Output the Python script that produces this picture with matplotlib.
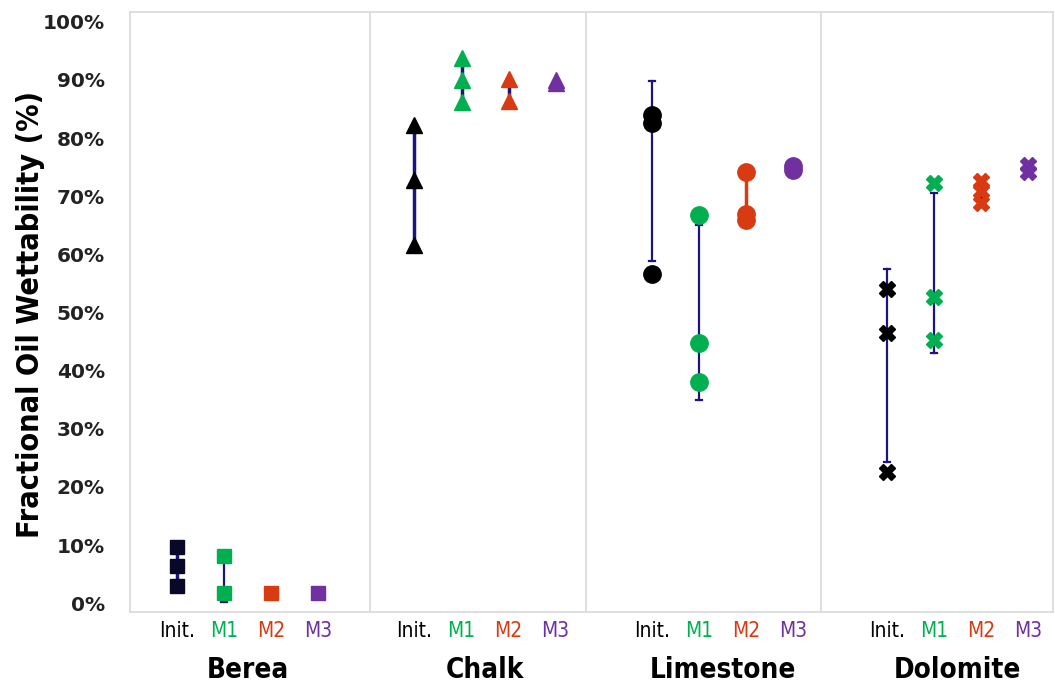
import matplotlib.pyplot as plt
import numpy as np

# Fractional oil wettability per rock type and treatment (percent)
rocks = ['Berea', 'Chalk', 'Limestone', 'Dolomite']
treatments = ['Init.', 'M1', 'M2', 'M3']
treat_colors = ['#000000', '#00B050', '#D83B12', '#7030A0']
rock_markers = ['s', '^', 'o', 'X']

berea = [[9.6, 6.4, 2.9], [8.1, 1.7], [1.7], [1.7]]
chalk = [[82.3, 72.8, 61.6], [93.8, 90.0, 86.2], [90.2, 86.4], [89.5, 90.0]]
limestone = [[84.0, 82.6, 56.6], [66.8, 44.7, 38.0], [74.2, 67.0, 66.0], [74.5, 75.2]]
dolomite = [[54.0, 46.4, 22.5], [72.3, 52.7, 45.3], [72.7, 70.9, 68.8], [75.4, 74.2]]
samples = [berea, chalk, limestone, dolomite]

# error bar ranges (low, high); None = plain connecting line between points
berea_err = [None, (0.3, 8.1), None, None]
chalk_err = [None, None, None, None]
limestone_err = [(58.9, 89.8), (35.0, 65.0), None, None]
dolomite_err = [(24.3, 57.5), (43.0, 70.6), None, None]
errs = [berea_err, chalk_err, limestone_err, dolomite_err]

group_start = [1.0, 6.05, 11.1, 16.1]
slot = [0, 1.0, 2.0, 3.0]
separators = [5.1, 9.7, 14.7]

fig = plt.figure(figsize=(10.55, 6.88), dpi=100)
ax = fig.add_axes([0.1232, 0.1105, 0.8750, 0.8721])

err_color = '#1C1480'
for g, rock in enumerate(rocks):
    for t in range(4):
        x = group_start[g] + slot[t]
        vals = samples[g][t]
        col = treat_colors[t]
        if g == 0 and t == 0:
            col = '#080828'
        e = errs[g][t]
        if e is not None:
            ax.plot([x, x], [e[0], e[1]], color=err_color, lw=1.6, zorder=2)
            ax.plot([x - 0.06, x + 0.06], [e[0], e[0]], color=err_color, lw=1.6, zorder=2)
            ax.plot([x - 0.06, x + 0.06], [e[1], e[1]], color=err_color, lw=1.6, zorder=2)
        elif len(vals) > 1:
            lc = '#D83B12' if (g == 2 and t == 2) else err_color
            ax.plot([x, x], [min(vals), max(vals)], color=lc, lw=2.5, zorder=2)
        ms = {'s': 9.5, '^': 11.5, 'o': 12.5, 'X': 11}[rock_markers[g]]
        ax.plot([x] * len(vals), vals, ls='none', marker=rock_markers[g], ms=ms,
                color=col, mec=col, zorder=3)

for s in separators:
    ax.axvline(s, color='#D9D9D9', lw=1.2, zorder=1)

ax.set_xlim(0, 19.63)
ax.set_ylim(-1.5, 101.7)
ax.set_yticks(np.arange(0, 101, 10))
ax.set_yticklabels([f'{v}%' for v in range(0, 101, 10)], fontsize=14.5, fontweight='bold',
                   color='#222222')
ax.tick_params(axis='y', length=0, pad=18)
ax.set_xticks([])
for sp in ax.spines.values():
    sp.set_color('#D9D9D9')
    sp.set_linewidth(1.2)

fig.text(0.029, 0.543, 'Fractional Oil Wettability (%)', rotation=90, ha='center',
         va='center', fontsize=22, fontweight='bold', fontstretch='condensed')

# treatment labels and rock names under the axis
for g, rock in enumerate(rocks):
    for t, lab in enumerate(treatments):
        x = group_start[g] + slot[t]
        ax.annotate(lab, xy=(x, 0), xycoords=('data', 'axes fraction'),
                    xytext=(0, -14), textcoords='offset points', ha='center', va='center',
                    fontsize=15, color=treat_colors[t], fontstretch='condensed')
    ax.annotate(rock, xy=(group_start[g] + 1.5, 0), xycoords=('data', 'axes fraction'),
                xytext=(0, -42), textcoords='offset points', ha='center', va='center',
                fontsize=20, fontweight='bold', fontstretch='condensed')

fig.savefig('out.png', dpi=100)
